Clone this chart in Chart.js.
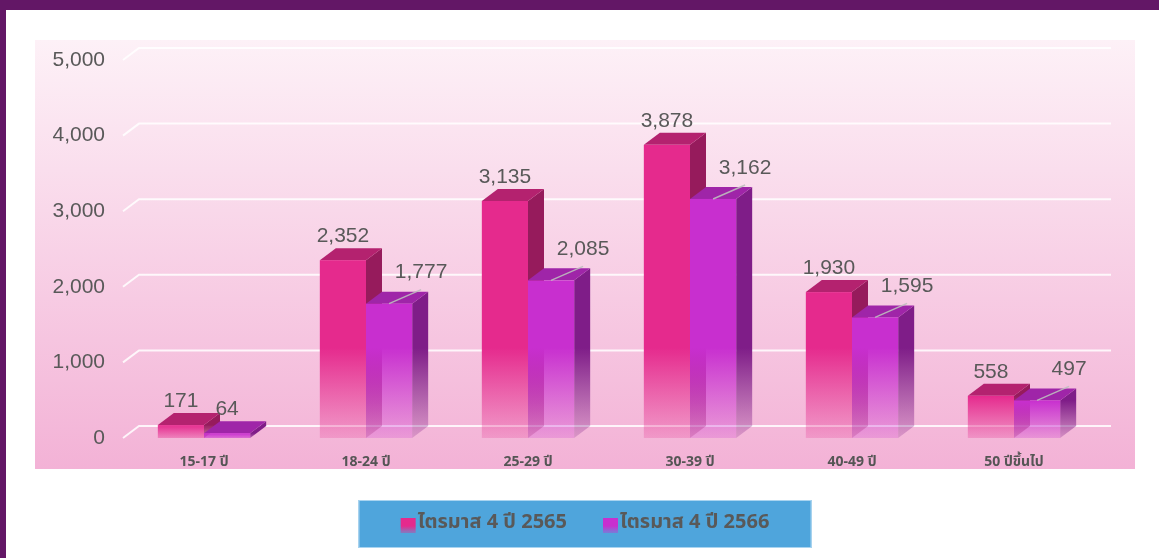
<!DOCTYPE html>
<html>
<head>
<meta charset="utf-8">
<script src="https://cdn.jsdelivr.net/npm/chart.js@4.4.0/dist/chart.umd.min.js"></script>
<style>
    body { margin: 0; background: #fff; }
    #wrap { position: relative; width: 1159px; height: 558px; overflow: hidden; }
    .frame-top { position: absolute; left: 0; top: 0; width: 1159px; height: 10px; background: #631766; }
    .frame-left { position: absolute; left: 0; top: 0; width: 6px; height: 558px; background: #631766; }
</style>
</head>
<body>
<div id="wrap">
    <canvas id="ageChart"></canvas>
    <div class="frame-top"></div>
    <div class="frame-left"></div>
</div>
<script>
// Chart data
const categories = ['15-17 ปี', '18-24 ปี', '25-29 ปี', '30-39 ปี', '40-49 ปี', '50 ปีขึ้นไป'];
const seriesLabels = ['ไตรมาส 4 ปี 2565', 'ไตรมาส 4 ปี 2566'];
const q4Y2565 = [171, 2352, 3135, 3878, 1930, 558];
const q4Y2566 = [64, 1777, 2085, 3162, 1595, 497];
const yTicks = [0, 1000, 2000, 3000, 4000, 5000];

// 3D look
const DX = 16;
const DY = 12;
const frontColors = ['#e52a8d', '#c82fcf'];
const topColors = ['#b4226f', '#9f25a8'];
const sideColors = ['#961b5c', '#7f1d88'];
const labelColor = '#595959';
const thaiFont = '"Noto Sans Thai", "Noto Sans", "DejaVu Sans", sans-serif';

function withAlpha(hex, a) {
    const n = parseInt(hex.slice(1), 16);
    return `rgba(${(n >> 16) & 255}, ${(n >> 8) & 255}, ${n & 255}, ${a})`;
}

function fadeFill(ctx, color, y, base) {
    const start = Math.max(y, base - 90);
    const g = ctx.createLinearGradient(0, start, 0, base + 4);
    g.addColorStop(0, color);
    g.addColorStop(1, withAlpha(color, 0.18));
    return g;
}

const bars3d = {
    id: 'bars3d',
    beforeDraw(chart) {
        const { ctx, chartArea: a } = chart;
        // pink plot background
        const g = ctx.createLinearGradient(0, a.top - 20, 0, a.bottom + 31);
        g.addColorStop(0, '#fdf1f7');
        g.addColorStop(1, '#f3b2d6');
        ctx.save();
        ctx.fillStyle = g;
        ctx.fillRect(a.left - 88, a.top - 20, a.right - a.left + 128, a.bottom - a.top + 51);
        ctx.restore();
    },
    beforeDatasetsDraw(chart) {
        const { ctx, chartArea: a, scales } = chart;
        // gridlines with a back wall
        ctx.save();
        ctx.strokeStyle = 'rgba(255, 255, 255, 0.85)';
        ctx.lineWidth = 2;
        yTicks.forEach(v => {
            const py = scales.y.getPixelForValue(v);
            ctx.beginPath();
            ctx.moveTo(a.left, py);
            ctx.lineTo(a.left + DX, py - DY);
            ctx.lineTo(a.right + DX, py - DY);
            ctx.stroke();
        });
        ctx.restore();
    },
    afterDatasetsDraw(chart) {
        const { ctx } = chart;
        ctx.save();
        // bars
        chart.data.datasets.forEach((ds, di) => {
            const meta = chart.getDatasetMeta(di);
            meta.data.forEach(bar => {
                const { x, y, base, width } = bar.getProps(['x', 'y', 'base', 'width'], true);
                const l = x - width / 2;
                const r = x + width / 2;

                // right side
                ctx.fillStyle = fadeFill(ctx, sideColors[di], y, base);
                ctx.beginPath();
                ctx.moveTo(r, y);
                ctx.lineTo(r + DX, y - DY);
                ctx.lineTo(r + DX, base - DY);
                ctx.lineTo(r, base);
                ctx.closePath();
                ctx.fill();

                // top
                ctx.fillStyle = topColors[di];
                ctx.beginPath();
                ctx.moveTo(l, y);
                ctx.lineTo(l + DX, y - DY);
                ctx.lineTo(r + DX, y - DY);
                ctx.lineTo(r, y);
                ctx.closePath();
                ctx.fill();

                // front
                ctx.fillStyle = fadeFill(ctx, frontColors[di], y, base);
                ctx.fillRect(l, y, width, base - y);
            });
        });

        // value labels
        ctx.font = '21px "Liberation Sans", Arial, sans-serif';
        ctx.fillStyle = labelColor;
        ctx.textAlign = 'center';
        ctx.textBaseline = 'middle';
        chart.data.datasets.forEach((ds, di) => {
            const meta = chart.getDatasetMeta(di);
            meta.data.forEach((bar, i) => {
                const value = ds.data[i];
                const text = value.toLocaleString('en-US');
                const { x, y } = bar.getProps(['x', 'y'], true);
                if (di === 1 && value >= 100) {
                    // leader line to offset label
                    ctx.strokeStyle = 'rgba(190, 190, 190, 0.9)';
                    ctx.lineWidth = 1.5;
                    ctx.beginPath();
                    ctx.moveTo(x, y);
                    ctx.lineTo(x + 32, y - 14);
                    ctx.stroke();
                    ctx.fillText(text, x + 32, y - 31);
                } else {
                    ctx.fillText(text, x, y - 24);
                }
            });
        });
        ctx.restore();
    },
    afterDraw(chart) {
        const { ctx, chartArea: a } = chart;
        // legend box
        const cx = (a.left - 88 + a.right + 40) / 2;
        const boxW = 453;
        const boxTop = a.bottom + 62;
        const boxH = 48;
        ctx.save();
        ctx.fillStyle = '#4fa5dc';
        ctx.fillRect(cx - boxW / 2, boxTop, boxW, boxH);
        ctx.strokeStyle = '#a9d4f0';
        ctx.lineWidth = 1;
        ctx.strokeRect(cx - boxW / 2 + 0.5, boxTop + 0.5, boxW - 1, boxH - 1);

        ctx.font = 'bold 20px ' + thaiFont;
        ctx.textBaseline = 'middle';
        ctx.textAlign = 'left';
        const gap = 36;
        const sw = 15;
        const widths = chart.data.datasets.map(ds => ctx.measureText(ds.label).width + sw + 2);
        let px = cx - (widths[0] + widths[1] + gap) / 2;
        const midY = boxTop + boxH / 2;
        chart.data.datasets.forEach((ds, di) => {
            const g = ctx.createLinearGradient(0, midY - 7, 0, midY + 8);
            g.addColorStop(0, frontColors[di]);
            g.addColorStop(0.6, frontColors[di]);
            g.addColorStop(1, withAlpha(frontColors[di], 0.4));
            ctx.fillStyle = g;
            ctx.fillRect(px, midY - 6, sw, sw);
            ctx.fillStyle = labelColor;
            ctx.fillText(ds.label, px + sw + 2, midY);
            px += widths[di] + gap;
        });
        ctx.restore();
    }
};

window.onload = function () {
    const ctx = document.getElementById('ageChart').getContext('2d');
    new Chart(ctx, {
        type: 'bar',
        data: {
            labels: categories,
            datasets: [
                { label: seriesLabels[0], data: q4Y2565, backgroundColor: 'rgba(0,0,0,0)' },
                { label: seriesLabels[1], data: q4Y2566, backgroundColor: 'rgba(0,0,0,0)' }
            ]
        },
        options: {
            responsive: true,
            maintainAspectRatio: false,
            animation: false,
            layout: {
                padding: { left: 35, right: 64, top: 60, bottom: 90 }
            },
            datasets: {
                bar: { categoryPercentage: 0.57, barPercentage: 1 }
            },
            plugins: {
                legend: { display: false },
                tooltip: { enabled: false }
            },
            scales: {
                x: {
                    grid: { display: false, drawTicks: false },
                    border: { display: false },
                    ticks: {
                        color: '#555555',
                        padding: 17,
                        font: { family: thaiFont, size: 14, weight: 'bold' }
                    },
                    afterFit(scale) { scale.height = 30; }
                },
                y: {
                    min: 0,
                    max: 5000,
                    grid: { display: false, drawTicks: false },
                    border: { display: false },
                    afterBuildTicks(scale) { scale.ticks = yTicks.map(v => ({ value: v })); },
                    ticks: {
                        color: labelColor,
                        padding: 18,
                        font: { family: '"Liberation Sans", Arial, sans-serif', size: 21 },
                        callback: v => v.toLocaleString('en-US')
                    },
                    afterFit(scale) { scale.width = 88; }
                }
            }
        },
        plugins: [bars3d]
    });
};
</script>
</body>
</html>
